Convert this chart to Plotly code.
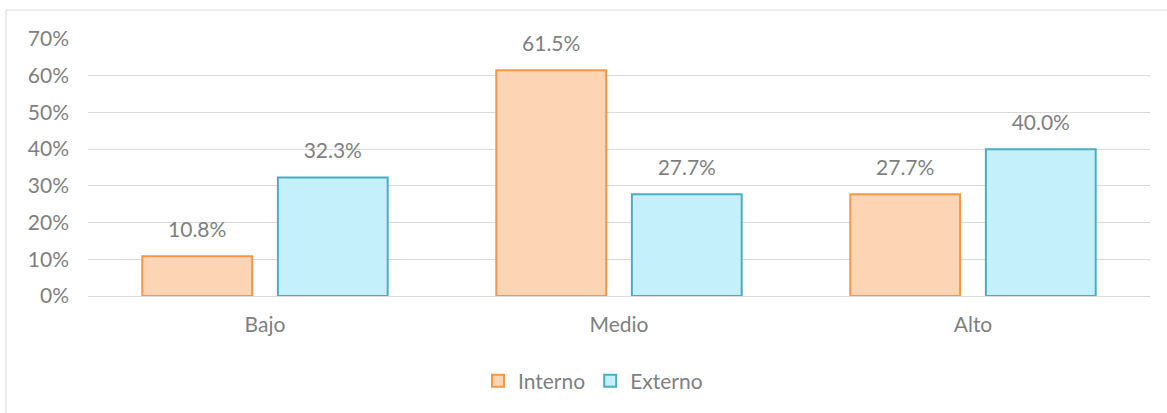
import plotly.graph_objects as go

categories = ["Bajo", "Medio", "Alto"]
interno = [0.108, 0.615, 0.277]
externo = [0.323, 0.277, 0.400]
y_ticks = [0, 0.1, 0.2, 0.3, 0.4, 0.5, 0.6, 0.7]

FONT = "Lato, 'Open Sans', sans-serif"
GRAY = "#7F7F7F"
FS = 21

fig = go.Figure()
series = [("Interno", interno, "#FDD4B4", "#F79646"),
          ("Externo", externo, "#C4F0FC", "#4BACC6")]
for name, vals, fill, edge in series:
    fig.add_trace(go.Bar(
        name=name, x=categories, y=vals, offsetgroup=name,
        marker=dict(color=fill, line=dict(color=edge, width=2)),
    ))
for name, vals, fill, edge in series:
    fig.add_trace(go.Scatter(
        x=categories, y=vals, offsetgroup=name, mode="markers+text",
        text=[f"{v*100:.1f}%" for v in vals], textposition="top center",
        textfont=dict(color=GRAY, size=FS, family=FONT),
        marker=dict(size=21, color="rgba(0,0,0,0)", line=dict(width=0)),
        showlegend=False, hoverinfo="skip", cliponaxis=False,
    ))

fig.update_layout(
    width=1167, height=413,
    margin=dict(l=88, r=17, t=39, b=117),
    paper_bgcolor="white", plot_bgcolor="white",
    barmode="group", bargap=0.234, bargroupgap=0.19,
    scattermode="group", scattergap=0.234,
    font=dict(family=FONT, color=GRAY, size=FS),
    showlegend=True,
    legend=dict(orientation="h", x=0.4755, xanchor="center", y=-0.331, yanchor="middle",
                font=dict(size=FS, color=GRAY, family=FONT), itemwidth=30,
                traceorder="normal"),
    shapes=[dict(type="rect", xref="paper", yref="paper",
                 x0=-0.0772, x1=1.05, y0=-0.6, y1=1.1128,
                 line=dict(color="#D9D9D9", width=1), fillcolor="rgba(0,0,0,0)", layer="below")],
)
fig.update_yaxes(range=[0, 0.7], tickvals=y_ticks, tickformat=".0%",
                 showgrid=True, gridcolor="#D9D9D9", gridwidth=1,
                 zeroline=True, zerolinecolor="#D9D9D9", zerolinewidth=1,
                 showline=False, ticks="", ticklen=0, ticklabelstandoff=18,
                 tickfont=dict(size=FS, color=GRAY, family=FONT))
fig.update_xaxes(showline=False, ticks="", ticklabelstandoff=14,
                 tickfont=dict(size=FS, color=GRAY, family=FONT))

fig.write_html("out.html", config={"displayModeBar": False},
               post_script="document.body.style.margin='0';document.body.style.padding='0';")
